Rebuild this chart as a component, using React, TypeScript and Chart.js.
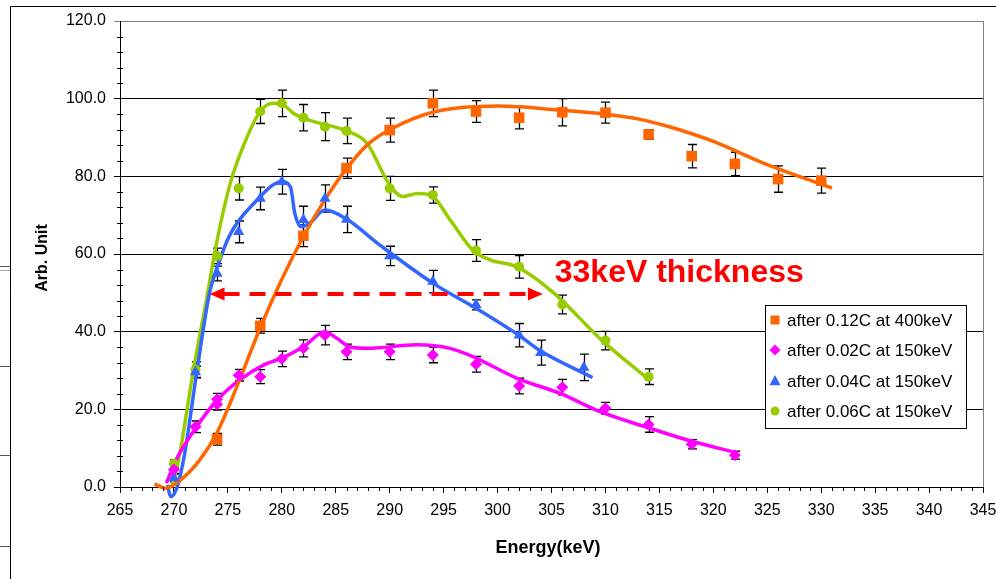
import React, { useEffect, useRef } from "react";
import { Chart, registerables } from "chart.js";

Chart.register(...registerables);

const FONT = 'Arial, "Liberation Sans", Helvetica, sans-serif';

// ---- axis ----
const xMin = 265;
const xMax = 345;
const yMin = 0;
const yMax = 120;

// ---- series labels ----
const seriesLabels = [
  "after 0.12C at 400keV",
  "after 0.02C at 150keV",
  "after 0.04C at 150keV",
  "after 0.06C at 150keV",
];
const seriesColors = ["#FF6600", "#FF00FF", "#3366FF", "#99CC00"];

// ---- measured points ----
const energyOrange = [274, 278, 282, 286, 290, 294, 298, 302, 306, 310, 314, 318, 322, 326, 330];
const valueOrange = [12.3, 41.5, 64.7, 82.1, 91.9, 98.8, 96.7, 95.1, 96.5, 96.4, 90.8, 85.2, 83.2, 79.3, 78.9];
const errOrange = [1.5, 1.9, 2.8, 2.6, 3.1, 3.4, 2.8, 2.9, 3.5, 2.7, 1.2, 3.0, 3.0, 3.4, 3.2];

const energyMagenta = [270, 272, 274, 274, 276, 278, 280, 282, 284, 286, 290, 294, 298, 302, 306, 310, 314, 318, 322];
const valueMagenta = [4.5, 15.5, 22.6, 21.3, 28.8, 28.4, 33.0, 35.7, 39.1, 34.8, 34.8, 34.0, 31.6, 26.0, 25.7, 20.3, 16.1, 11.0, 8.2];
const errMagenta = [1.0, 1.5, 1.5, 1.5, 1.5, 1.8, 2.0, 2.2, 2.5, 2.0, 2.0, 2.0, 2.0, 2.0, 2.0, 1.5, 2.0, 1.2, 1.0];

const energyBlue = [270, 272, 274, 276, 278, 280, 282, 284, 286, 290, 294, 298, 302, 304, 308];
const valueBlue = [2.3, 29.6, 55.0, 65.7, 74.3, 78.6, 68.8, 74.3, 68.9, 59.5, 52.9, 46.9, 39.1, 34.6, 30.8];
const errBlue = [1.0, 1.5, 1.9, 2.8, 2.9, 3.2, 3.5, 3.5, 3.4, 2.5, 2.9, 1.3, 3.0, 3.2, 3.4];

const energyGreen = [270, 272, 274, 276, 278, 280, 282, 284, 286, 290, 294, 298, 302, 306, 310, 314];
const valueGreen = [6.0, 30.2, 59.5, 76.9, 96.7, 98.8, 95.1, 92.8, 91.7, 76.9, 75.2, 60.9, 56.7, 47.0, 37.7, 28.4];
const errGreen = [1.0, 2.0, 2.0, 3.0, 3.1, 3.4, 3.4, 3.6, 3.3, 3.1, 2.1, 2.8, 2.9, 2.4, 2.4, 2.0];

// ---- smoothed guide curves ----
const curveOrange: [number, number][] = [
  [268.2, 0.8], [269.2, -0.3], [270.6, 1.8], [272.4, 7], [274, 14], [276, 27], [278, 41], [280, 53.5],
  [282, 64.5], [284, 74], [286, 82], [288, 88.3], [290, 92], [294, 96.5], [300, 98.1], [306, 97],
  [310, 96], [313, 94.8], [316, 92.7], [320, 89], [325, 83], [331, 77],
];
const curveMagenta: [number, number][] = [
  [269.3, 1], [270.2, 7], [272.1, 15.5], [274, 22.4], [276.1, 27.6], [278.3, 31.4], [280.1, 33.3],
  [282, 36.1], [284, 40], [285.1, 38.3], [286.3, 36.1], [287.9, 35.7], [292.5, 36.6], [295.6, 35.7],
  [297.7, 33.6], [301.8, 28], [305.8, 24.1], [309.5, 19.4], [313.7, 15.5], [317.6, 12.1], [322.3, 8.7],
];
const curveBlue: [number, number][] = [
  [269.4, 0.5], [269.7, -2.5], [270.3, 0], [271, 8.7], [272.1, 29.3], [273.3, 50], [274, 56.5],
  [275.2, 65], [277.4, 73], [280, 78.6], [280.8, 77.3], [281.2, 70.5], [281.8, 67], [282.6, 68],
  [284, 71.3], [286, 69], [289, 62.5], [294, 52.5], [298, 46], [302, 39], [304, 35], [308.8, 28.2],
];
const curveGreen: [number, number][] = [
  [269.8, 0], [270.5, 8], [271.8, 30], [273, 48], [274, 63.5], [275.2, 78], [276.4, 87.6], [278, 96.7],
  [279.2, 98.8], [280, 98.6], [281.1, 96.2], [282, 95], [283.5, 93.7], [286, 91.7], [287.9, 88.5],
  [289.9, 78.2], [291.2, 74.8], [292.6, 75.6], [293.8, 75.2], [295.6, 68.8], [297.7, 61], [299.3, 58.5],
  [301.8, 56.7], [305.2, 50], [309.7, 37.7], [313.7, 28.4],
];

// ---- annotation ----
const arrowFrom = 273.3;
const arrowTo = 304.2;
const arrowLevel = 49.7;
const annotationText = "33keV thickness";
const annotationX = 305.3;
const annotationY = 52.9;

const markerSeries = [
  { xs: energyOrange, ys: valueOrange, err: errOrange, style: "rect", r: 7.5 },
  { xs: energyMagenta, ys: valueMagenta, err: errMagenta, style: "rectRot", r: 6 },
  { xs: energyBlue, ys: valueBlue, err: errBlue, style: "triangle", r: 6.5 },
  { xs: energyGreen, ys: valueGreen, err: errGreen, style: "circle", r: 5 },
];
const curves = [curveOrange, curveMagenta, curveBlue, curveGreen];

function drawMarker(ctx: CanvasRenderingContext2D, style: string, x: number, y: number, s: number, color: string) {
  ctx.save();
  ctx.fillStyle = color;
  ctx.beginPath();
  if (style === "rect") {
    ctx.rect(x - s, y - s, 2 * s, 2 * s);
  } else if (style === "rectRot") {
    ctx.moveTo(x, y - s);
    ctx.lineTo(x + s, y);
    ctx.lineTo(x, y + s);
    ctx.lineTo(x - s, y);
    ctx.closePath();
  } else if (style === "triangle") {
    ctx.moveTo(x, y - s * 1.1);
    ctx.lineTo(x + s, y + s * 0.75);
    ctx.lineTo(x - s, y + s * 0.75);
    ctx.closePath();
  } else {
    ctx.arc(x, y, s, 0, Math.PI * 2);
  }
  ctx.fill();
  ctx.restore();
}

const overlay = {
  id: "overlay",
  beforeDraw(chart: any) {
    const ctx: CanvasRenderingContext2D = chart.ctx;
    ctx.save();
    ctx.fillStyle = "#fff";
    ctx.fillRect(0, 0, chart.width, chart.height);
    ctx.strokeStyle = "#000";
    ctx.lineWidth = 1;
    ctx.beginPath();
    ctx.moveTo(10.5, 579);
    ctx.lineTo(10.5, 6.5);
    ctx.lineTo(996, 6.5);
    ctx.stroke();
    ctx.strokeStyle = "#555";
    ctx.beginPath();
    [266.5, 366.5, 455.5, 546.5].forEach((y) => {
      ctx.moveTo(0, y);
      ctx.lineTo(10, y);
    });
    ctx.stroke();
    ctx.strokeStyle = "#aaa";
    ctx.beginPath();
    ctx.moveTo(0, 270.5);
    ctx.lineTo(10, 270.5);
    ctx.stroke();
    ctx.restore();
  },
  beforeDatasetsDraw(chart: any) {
    const ctx: CanvasRenderingContext2D = chart.ctx;
    const xs = chart.scales.x;
    const ys = chart.scales.y;
    ctx.save();
    ctx.strokeStyle = "#000";
    ctx.lineWidth = 1.3;
    markerSeries.forEach((s) => {
      s.xs.forEach((e, i) => {
        const px = Math.round(xs.getPixelForValue(e)) + 0.5;
        const top = ys.getPixelForValue(s.ys[i] + s.err[i]);
        const bot = ys.getPixelForValue(s.ys[i] - s.err[i]);
        ctx.beginPath();
        ctx.moveTo(px, top);
        ctx.lineTo(px, bot);
        ctx.moveTo(px - 4.5, top);
        ctx.lineTo(px + 4.5, top);
        ctx.moveTo(px - 4.5, bot);
        ctx.lineTo(px + 4.5, bot);
        ctx.stroke();
      });
    });
    ctx.restore();
  },
  afterDraw(chart: any) {
    const ctx: CanvasRenderingContext2D = chart.ctx;
    const xs = chart.scales.x;
    const ys = chart.scales.y;
    const area = chart.chartArea;
    ctx.save();
    ctx.strokeStyle = "#808080";
    ctx.lineWidth = 1;
    ctx.beginPath();
    ctx.moveTo(Math.round(area.right) + 0.5, area.bottom);
    ctx.lineTo(Math.round(area.right) + 0.5, area.top);
    ctx.stroke();
    // minor ticks
    ctx.strokeStyle = "#000";
    ctx.beginPath();
    for (let v = yMin; v <= yMax; v += 4) {
      if (v % 20 === 0) continue;
      const py = Math.round(ys.getPixelForValue(v)) + 0.5;
      ctx.moveTo(area.left - 3, py);
      ctx.lineTo(area.left + 3, py);
    }
    for (let e = xMin; e <= xMax; e += 1) {
      if (e % 5 === 0) continue;
      const px = Math.round(xs.getPixelForValue(e)) + 0.5;
      ctx.moveTo(px, area.bottom);
      ctx.lineTo(px, area.bottom + 4);
    }
    ctx.stroke();

    // axis titles
    ctx.fillStyle = "#000";
    ctx.font = `bold 16px ${FONT}`;
    ctx.textAlign = "center";
    ctx.textBaseline = "middle";
    ctx.save();
    ctx.translate(43, 258);
    ctx.rotate(-Math.PI / 2);
    ctx.fillText("Arb. Unit", 0, 0);
    ctx.restore();
    ctx.font = `bold 18px ${FONT}`;
    ctx.fillText("Energy(keV)", 548, 548);

    // dashed double arrow
    const ax1 = xs.getPixelForValue(arrowFrom);
    const ax2 = xs.getPixelForValue(arrowTo);
    const ay = ys.getPixelForValue(arrowLevel);
    ctx.strokeStyle = "#FF0000";
    ctx.fillStyle = "#FF0000";
    ctx.lineWidth = 4;
    ctx.setLineDash([16, 10]);
    ctx.beginPath();
    ctx.moveTo(ax1 + 14, ay);
    ctx.lineTo(ax2 - 14, ay);
    ctx.stroke();
    ctx.setLineDash([]);
    ctx.beginPath();
    ctx.moveTo(ax1, ay);
    ctx.lineTo(ax1 + 15, ay - 6.5);
    ctx.lineTo(ax1 + 15, ay + 6.5);
    ctx.closePath();
    ctx.fill();
    ctx.beginPath();
    ctx.moveTo(ax2, ay);
    ctx.lineTo(ax2 - 15, ay - 6.5);
    ctx.lineTo(ax2 - 15, ay + 6.5);
    ctx.closePath();
    ctx.fill();

    // annotation text
    ctx.font = `bold 32px ${FONT}`;
    ctx.textAlign = "left";
    ctx.textBaseline = "alphabetic";
    ctx.fillText(annotationText, xs.getPixelForValue(annotationX), ys.getPixelForValue(annotationY));

    // legend
    const lx = 765.5, ly = 305.5, lw = 201, lh = 123;
    ctx.fillStyle = "#fff";
    ctx.fillRect(lx, ly, lw, lh);
    ctx.strokeStyle = "#000";
    ctx.lineWidth = 1;
    ctx.strokeRect(lx, ly, lw, lh);
    const rowY = [320, 350, 381, 411];
    const legendSizes = [4.5, 5.5, 5.5, 4.5];
    seriesLabels.forEach((label, i) => {
      drawMarker(ctx, markerSeries[i].style, 775, rowY[i], legendSizes[i], seriesColors[i]);
      ctx.fillStyle = "#000";
      ctx.font = `17px ${FONT}`;
      ctx.textAlign = "left";
      ctx.textBaseline = "middle";
      ctx.fillText(label, 787, rowY[i] + 1);
    });
    ctx.restore();
  },
};

export default function App() {
  const ref = useRef<HTMLCanvasElement>(null);
  useEffect(() => {
    const canvas = ref.current;
    if (!canvas) return;
    const toPts = (xs: number[], ys: number[]) => xs.map((x, i) => ({ x, y: ys[i] }));

    const markerSets = markerSeries.map((s, i) => ({
      label: seriesLabels[i],
      data: toPts(s.xs, s.ys),
      showLine: false,
      pointStyle: s.style,
      pointRadius: s.r,
      pointHoverRadius: s.r,
      pointBackgroundColor: seriesColors[i],
      pointBorderColor: seriesColors[i],
      pointBorderWidth: 0,
      backgroundColor: seriesColors[i],
      borderColor: seriesColors[i],
    }));
    const curveSets = curves.map((c, i) => ({
      label: seriesLabels[i] + " fit",
      data: c.map(([x, y]) => ({ x, y })),
      showLine: true,
      pointRadius: 0,
      pointHoverRadius: 0,
      borderColor: seriesColors[i],
      backgroundColor: seriesColors[i],
      borderWidth: 3.5,
      cubicInterpolationMode: "monotone",
      fill: false,
      clip: false,
    }));

    const chart = new Chart(canvas, {
      type: "scatter",
      data: { datasets: [...markerSets, ...curveSets] as any },
      options: {
        responsive: false,
        animation: false,
        devicePixelRatio: 1,
        layout: { padding: { left: 0, right: 13, top: 21, bottom: 0 } },
        plugins: {
          legend: { display: false },
          tooltip: { enabled: false },
          title: { display: false },
        },
        scales: {
          x: {
            type: "linear",
            min: xMin,
            max: xMax,
            ticks: {
              stepSize: 5,
              color: "#000",
              font: { family: FONT, size: 16 },
              padding: 8,
              maxRotation: 0,
              autoSkip: false,
            },
            grid: { drawOnChartArea: false, drawTicks: true, tickLength: 6, color: "#000", lineWidth: 1 },
            border: { display: true, color: "#000", width: 1 },
            afterFit: (scale: any) => {
              scale.height = 92;
              scale.paddingLeft = 0;
              scale.paddingRight = 0;
            },
          },
          y: {
            type: "linear",
            min: yMin,
            max: yMax,
            ticks: {
              stepSize: 20,
              color: "#000",
              font: { family: FONT, size: 16 },
              padding: 8,
              callback: (v: any) => Number(v).toFixed(1),
            },
            grid: {
              drawOnChartArea: true,
              drawTicks: true,
              tickLength: 6,
              lineWidth: 1,
              color: (c: any) => (c.tick && c.tick.value === yMax ? "#808080" : "#000"),
            },
            border: { display: true, color: "#000", width: 1 },
            afterFit: (scale: any) => {
              scale.width = 120;
            },
          },
        },
      },
      plugins: [overlay],
    });
    return () => chart.destroy();
  }, []);

  return (
    <div style={{ position: "fixed", left: 0, top: 0, width: 996, height: 579, background: "#fff" }}>
      <canvas ref={ref} width={996} height={579} style={{ width: 996, height: 579, display: "block" }} />
    </div>
  );
}
